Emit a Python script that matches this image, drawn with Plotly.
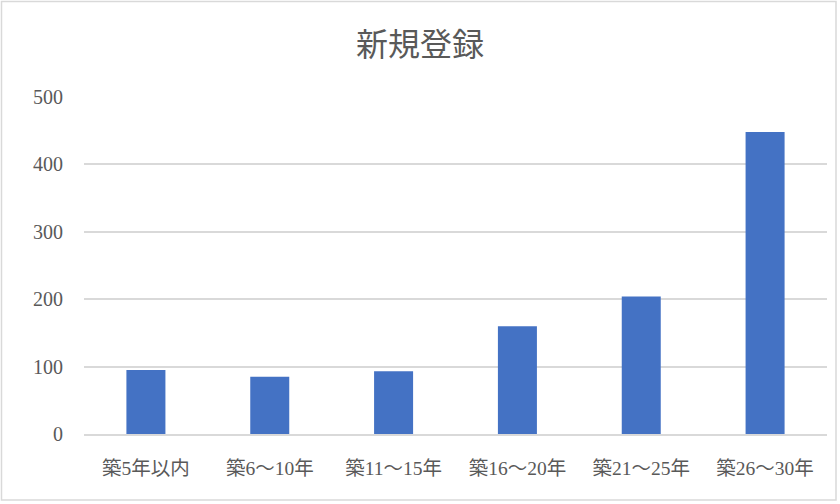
import plotly.graph_objects as go

categories = ["築5年以内", "築6～10年", "築11～15年", "築16～20年", "築21～25年", "築26～30年"]
values = [95, 85, 93, 160, 204, 448]
y_ticks = [0, 100, 200, 300, 400, 500]
title_text = "新規登録"

FONT = "Liberation Serif, Noto Sans CJK JP, serif"
TXT = "#595959"

fig = go.Figure(
    go.Bar(x=categories, y=values, marker=dict(color="#4472C4", line=dict(width=0)))
)

# plot area: x 84..827, y 97..434
L, R, T, B = 84, 13, 97, 70
W, H = 840, 504
pw, ph = W - L - R, H - T - B

fig.update_layout(
    width=W, height=H,
    margin=dict(l=L, r=R, t=T, b=B),
    paper_bgcolor="white", plot_bgcolor="white",
    bargap=0.685,
    showlegend=False,
    font=dict(family=FONT, color=TXT, size=20),
    title=dict(text=title_text, x=0.5, xanchor="center", y=1 - 45 / H, yanchor="middle",
               font=dict(family=FONT, size=32, color=TXT)),
    xaxis=dict(showgrid=False, showline=True, linecolor="#d9d9d9", linewidth=1.5,
               ticks="", tickfont=dict(size=19.5, color=TXT), ticklabelstandoff=16),
    yaxis=dict(range=[0, 500], tickvals=y_ticks, showgrid=True, gridcolor="#d9d9d9",
               gridwidth=1.5, zeroline=False, showline=False, ticks="",
               tickfont=dict(size=20, color=TXT), ticklabelstandoff=20),
    shapes=[dict(type="rect", xref="paper", yref="paper",
                 x0=(1.5 - L) / pw, x1=(836 - L) / pw,
                 y0=(H - B - 500) / ph, y1=(H - B - 1.5) / ph,
                 line=dict(color="#d9d9d9", width=1.5), fillcolor="rgba(0,0,0,0)", layer="below")],
)

fig.write_html("out.html", config={"displayModeBar": False},
               post_script="document.body.style.margin='0';document.body.style.overflow='hidden';")
